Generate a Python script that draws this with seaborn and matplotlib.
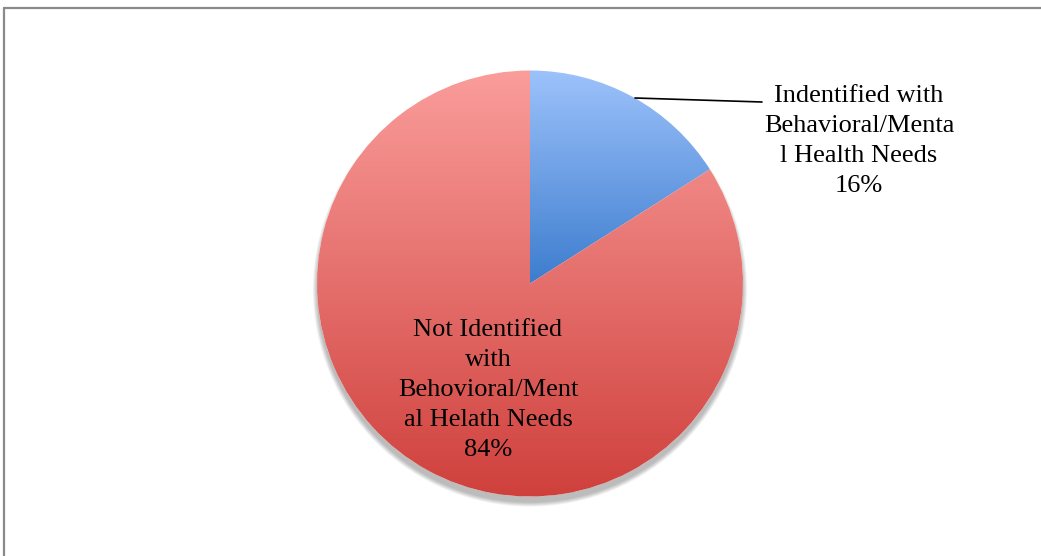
import numpy as np
import matplotlib
matplotlib.use("Agg")
import matplotlib.pyplot as plt
import seaborn as sns
from matplotlib.colors import LinearSegmentedColormap
from matplotlib.patches import Circle
from matplotlib.lines import Line2D

# ---- data ----
labels = ["Indentified with\nBehavioral/Menta\nl Health Needs",
          "Not Identified\nwith\nBehovioral/Ment\nal Helath Needs"]
values = [16, 84]
pct_labels = ["16%", "84%"]
top_colors = ["#9DC2FB", "#FA9D9B"]
bottom_colors = ["#3D7DCE", "#CF403C"]

sns.set_theme(style="white")
plt.rcParams["font.family"] = ["Liberation Serif", "DejaVu Serif"]

W, H = 1041, 556
fig = plt.figure(figsize=(W / 100, H / 100), dpi=100)
ax = fig.add_axes([0, 0, 1, 1])
cx, cy, R = 530, 283.5, 213.0
ax.set_xlim((0 - cx) / R, (W - cx) / R)
ax.set_ylim((cy - H) / R, (cy - 0) / R)
ax.set_aspect("auto")
ax.axis("off")

# soft shadow (mostly below the pie)
for i in range(8):
    ax.add_patch(Circle((0.0, -6.0 / R), 1 + (i * 0.6) / R,
                        color="black", alpha=0.035, lw=0, zorder=1))
ax.add_patch(Circle((0, 0), 1.0, color="white", lw=0, zorder=1.5))

wedges, _ = ax.pie(values, startangle=90, counterclock=False, radius=1.0,
                   colors=top_colors, wedgeprops=dict(linewidth=0))

for w, c0, c1 in zip(wedges, top_colors, bottom_colors):
    w.set_zorder(2)
    verts = w.get_path().vertices
    xmin, ymin = verts.min(axis=0)
    xmax, ymax = verts.max(axis=0)
    cmap = LinearSegmentedColormap.from_list("g", [c1, c0])
    grad = np.linspace(0, 1, 256).reshape(-1, 1)
    im = ax.imshow(grad, cmap=cmap, origin="lower", aspect="auto",
                   extent=[xmin, xmax, ymin, ymax], zorder=3,
                   interpolation="bilinear")
    im.set_clip_path(w)
    w.set_facecolor("none")

ax.set_xlim((0 - cx) / R, (W - cx) / R)
ax.set_ylim((cy - H) / R, (cy - 0) / R)

def px(x, y):
    return ((x - cx) / R, (cy - y) / R)

fs = 19
ls = 1.47
tx, ty = px(859, 141)
ax.text(tx, ty, labels[0] + "\n" + pct_labels[0], ha="center", va="center",
        fontsize=fs, color="black", linespacing=ls, zorder=5)
x0, y0 = px(635, 98)
x1, y1 = px(762, 102)
ax.plot([x0, x1], [y0, y1], color="black", lw=1.2, zorder=5)

tx, ty = px(488, 390)
ax.text(tx, ty, labels[1] + "\n" + pct_labels[1], ha="center", va="center",
        fontsize=fs, color="black", linespacing=ls, zorder=5)

# frame
fx0, fy0 = 3.5 / W, 1 - 7.5 / H
fig.add_artist(Line2D([fx0, fx0], [-0.1, fy0], transform=fig.transFigure,
                      color="#8a8a8a", lw=1.6))
fig.add_artist(Line2D([fx0, 1.1], [fy0, fy0], transform=fig.transFigure,
                      color="#8a8a8a", lw=1.6))

fig.savefig("out.png", dpi=100, facecolor="white")
